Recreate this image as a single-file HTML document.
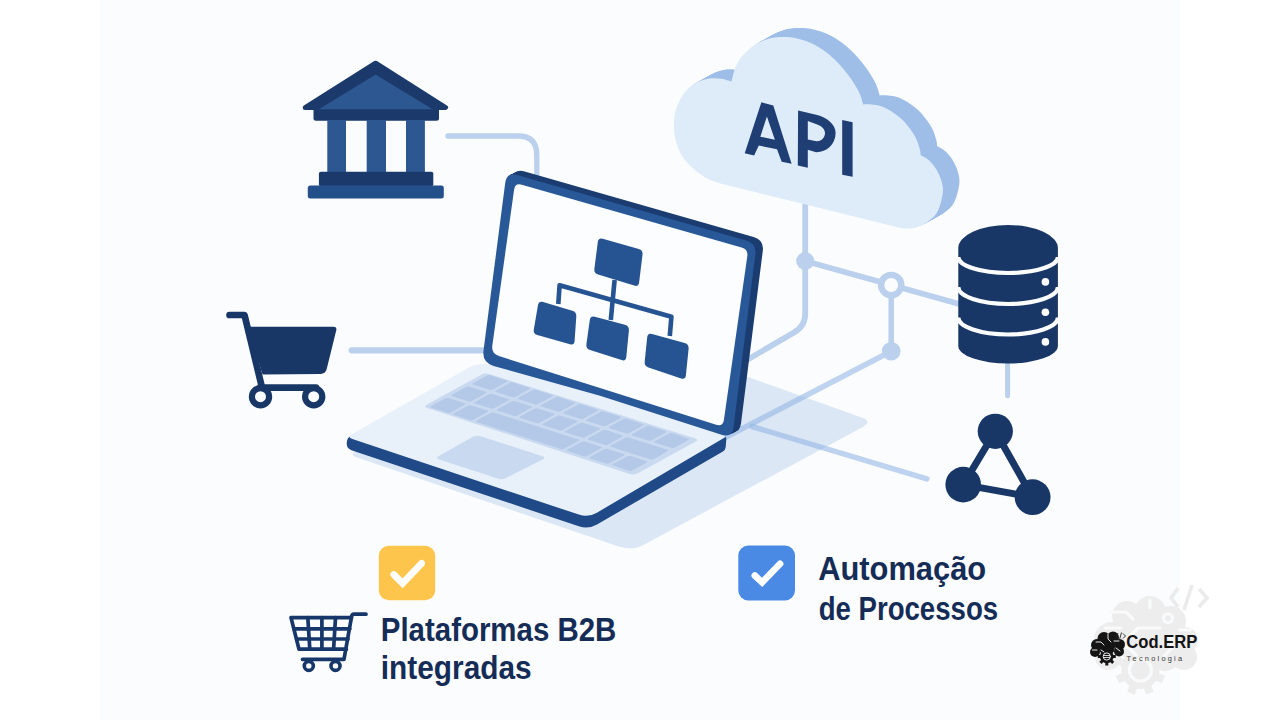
<!DOCTYPE html>
<html><head><meta charset="utf-8"><title>Integração</title>
<style>html,body{margin:0;padding:0;background:#fff;overflow:hidden}svg{display:block}</style>
</head><body>
<svg width="1280" height="720" viewBox="0 0 1280 720">
<rect x="0" y="0" width="1280" height="720" fill="#ffffff"/>
<rect x="100" y="0" width="1080" height="720" fill="#fbfcfe"/>
<path d="M354.9,451.5 Q350,455 355.7,456.9 L618.7,546.5 Q632,551 644.3,544.4 L862.4,427.2 Q873,421.5 861.7,417.5 L750.7,378 Q745,376 739,375.8 L476,368.2 Q470,368 465.1,371.5Z" fill="#dbe7f5"/>
<path d="M448,136 H518 Q536.8,136 536.8,155 V180" fill="none" stroke="#bad0ed" stroke-linecap="round" stroke-linejoin="round" stroke-width="5.3"/>
<path d="M351.7,350.3 H495" fill="none" stroke="#bad0ed" stroke-linecap="round" stroke-linejoin="round" stroke-width="6.2"/>
<path d="M805.2,205 V314 Q805.2,326 794,332.5 L740,364" fill="none" stroke="#bad0ed" stroke-linecap="round" stroke-linejoin="round" stroke-width="5.8"/>
<path d="M805.2,261 L958.4,303.8" fill="none" stroke="#bad0ed" stroke-linecap="round" stroke-linejoin="round" stroke-width="5.8"/>
<path d="M891.2,285 V351" fill="none" stroke="#bad0ed" stroke-linecap="round" stroke-linejoin="round" stroke-width="5.5"/>
<path d="M891.2,351.2 L725.5,437.3" fill="none" stroke="#94b7e4" stroke-opacity="0.6" stroke-linecap="round" stroke-width="5.5"/>
<path d="M752,426.5 L926.8,478.9" fill="none" stroke="#94b7e4" stroke-opacity="0.6" stroke-linecap="round" stroke-width="5.5"/>
<path d="M1007.6,360 V395.8" fill="none" stroke="#bad0ed" stroke-linecap="round" stroke-linejoin="round" stroke-width="5"/>
<circle cx="805.2" cy="261" r="9" fill="#bad0ed"/>
<circle cx="891.2" cy="285" r="10.1" fill="#fbfcfe" stroke="#bad0ed" stroke-width="6.4"/>
<circle cx="891.2" cy="351.2" r="9.3" fill="#bad0ed"/>
<path d="M375.6,63.2 L445.6,107.5 L305.2,107.5Z" fill="#1b3a6b" stroke="#1b3a6b" stroke-width="5" stroke-linejoin="round"/>
<path d="M375.6,74.4 L433,109.6 L318.5,109.6Z" fill="#2c5791"/>
<path d="M313.5,109.9 Q313.5,109.4 314,109.4 L438.5,109.4 Q439,109.4 439,109.9 L439,118.2 Q439,120.7 436.5,120.7 L316,120.7 Q313.5,120.7 313.5,118.2Z" fill="#1b3a6b"/>
<rect x="327.3" y="120" width="18.7" height="52.5" fill="#2c5791"/>
<rect x="366.7" y="120" width="19.3" height="52.5" fill="#2c5791"/>
<rect x="406" y="120" width="18.9" height="52.5" fill="#2c5791"/>
<rect x="318.9" y="171.8" width="114.4" height="14.5" rx="2" fill="#1b3a6b"/>
<rect x="307.8" y="185.6" width="136" height="12.8" rx="2.5" fill="#234f8a"/>
<g fill="#183766" stroke="#183766" stroke-linecap="round" stroke-linejoin="round">
<path d="M229.5,315 H244.5 L262,387.5" fill="none" stroke-width="6.7"/>
<path d="M248.8,327.7 Q248.5,326.7 249.5,326.7 L333.2,326.7 Q337.2,326.7 336.2,330.6 L326.7,369.1 Q325.5,374 320.5,374 L263.5,374.5 Q262.5,374.5 262.2,373.5Z" stroke-width="0"/>
<path d="M260,387.7 H316" fill="none" stroke-width="6.7"/>
</g>
<circle cx="260.5" cy="396.7" r="8.6" fill="#fbfcfe" stroke="#183766" stroke-width="6.2"/>
<circle cx="313.7" cy="396.7" r="8.6" fill="#fbfcfe" stroke="#183766" stroke-width="6.2"/>
<path d="M346.7,442.9 Q346.7,437.2 352,435.2 L420,410 Q420,410 420,410 L700,430 Q700,430 700,430 L723.6,435.8 Q726.5,436.5 726.3,439.5 L725.7,447 Q725.5,450 722.9,451.5 L597,524.5 Q588.3,529.5 578.8,526.3 L351.4,450.2 Q346.7,448.6 346.7,443.6Z" fill="#1f4987"/>
<path d="M352.4,439.1 Q346.7,437.2 351.9,434.2 L469,367.5 Q476,363.5 484,364 L515,366 Q515,366 515,366 L723.7,435.6 Q726.5,436.5 723.9,438 L596.9,512.7 Q588.3,517.8 578.8,514.6Z" fill="#e8f0fa"/>
<path d="M427,404.4 Q423,406.6 427.3,408 L629.6,474 Q633.8,475.3 637.8,473.2 L695.3,441.8 Q699.2,439.6 695,438.3 L489.1,374.1 Q484.8,372.8 480.9,374.9Z" fill="#c9d9f0"/>
<path d="M431.2,406.1 Q429.4,407 431.3,407.7 L447.2,412.7 Q449.1,413.3 450.9,412.4 L464.8,404.8 Q466.5,403.8 464.6,403.2 L448.7,398.1 Q446.8,397.5 445.1,398.5Z" fill="#b4c9e7"/>
<path d="M453.9,413.3 Q452.1,414.3 454.1,414.9 L469.9,420 Q471.8,420.6 473.6,419.6 L487.5,412 Q489.2,411.1 487.3,410.5 L471.5,405.4 Q469.5,404.8 467.8,405.7Z" fill="#b4c9e7"/>
<path d="M476.6,420.6 Q474.9,421.5 476.8,422.1 L560.9,449 Q562.8,449.6 564.5,448.6 L578.4,441 Q580.2,440.1 578.3,439.4 L494.2,412.6 Q492.3,412 490.5,413Z" fill="#b4c9e7"/>
<path d="M567.6,449.6 Q565.8,450.5 567.7,451.1 L583.6,456.2 Q585.5,456.8 587.2,455.9 L601.1,448.3 Q602.9,447.3 601,446.7 L585.1,441.6 Q583.2,441 581.4,442Z" fill="#b4c9e7"/>
<path d="M590.3,456.8 Q588.5,457.8 590.4,458.4 L606.3,463.5 Q608.2,464.1 610,463.1 L623.9,455.5 Q625.6,454.5 623.7,453.9 L607.8,448.9 Q605.9,448.3 604.2,449.2Z" fill="#b4c9e7"/>
<path d="M613,464.1 Q611.3,465 613.2,465.6 L629,470.7 Q631,471.3 632.7,470.3 L646.6,462.8 Q648.4,461.8 646.4,461.2 L630.6,456.1 Q628.7,455.5 626.9,456.5Z" fill="#b4c9e7"/>
<path d="M452.2,394.6 Q450.4,395.6 452.3,396.2 L468.2,401.2 Q470.1,401.8 471.9,400.9 L485.8,393.3 Q487.5,392.3 485.6,391.7 L469.7,386.7 Q467.8,386.1 466.1,387Z" fill="#b4c9e7"/>
<path d="M474.9,401.9 Q473.1,402.8 475.1,403.4 L490.9,408.5 Q492.8,409.1 494.6,408.1 L508.5,400.5 Q510.2,399.6 508.3,399 L492.5,393.9 Q490.5,393.3 488.8,394.3Z" fill="#b4c9e7"/>
<path d="M497.6,409.1 Q495.9,410.1 497.8,410.7 L513.7,415.7 Q515.6,416.3 517.3,415.4 L531.2,407.8 Q533,406.8 531.1,406.2 L515.2,401.2 Q513.3,400.5 511.5,401.5Z" fill="#b4c9e7"/>
<path d="M520.4,416.3 Q518.6,417.3 520.5,417.9 L536.4,423 Q538.3,423.6 540.1,422.6 L553.9,415 Q555.7,414.1 553.8,413.5 L537.9,408.4 Q536,407.8 534.3,408.8Z" fill="#b4c9e7"/>
<path d="M543.1,423.6 Q541.3,424.6 543.2,425.2 L559.1,430.2 Q561,430.8 562.8,429.9 L576.7,422.3 Q578.4,421.3 576.5,420.7 L560.6,415.7 Q558.7,415 557,416Z" fill="#b4c9e7"/>
<path d="M565.8,430.8 Q564.1,431.8 566,432.4 L581.9,437.5 Q583.8,438.1 585.5,437.1 L599.4,429.5 Q601.2,428.6 599.3,428 L583.4,422.9 Q581.5,422.3 579.7,423.3Z" fill="#b4c9e7"/>
<path d="M588.6,438.1 Q586.8,439.1 588.7,439.7 L604.6,444.7 Q606.5,445.3 608.2,444.4 L622.1,436.8 Q623.9,435.8 622,435.2 L606.1,430.1 Q604.2,429.5 602.4,430.5Z" fill="#b4c9e7"/>
<path d="M611.3,445.3 Q609.5,446.3 611.4,446.9 L650,459.2 Q652,459.8 653.7,458.9 L667.6,451.3 Q669.4,450.3 667.4,449.7 L628.8,437.4 Q626.9,436.8 625.2,437.7Z" fill="#b4c9e7"/>
<path d="M473.2,383.1 Q471.4,384.1 473.3,384.7 L489.2,389.8 Q491.1,390.4 492.9,389.4 L506.5,382 Q508.2,381 506.3,380.4 L490.4,375.3 Q488.5,374.7 486.8,375.7Z" fill="#b4c9e7"/>
<path d="M495.9,390.4 Q494.1,391.3 496.1,391.9 L511.9,397 Q513.8,397.6 515.6,396.7 L529.2,389.2 Q530.9,388.3 529,387.7 L513.2,382.6 Q511.2,382 509.5,382.9Z" fill="#b4c9e7"/>
<path d="M518.6,397.6 Q516.9,398.6 518.8,399.2 L534.7,404.3 Q536.6,404.9 538.3,403.9 L551.9,396.5 Q553.7,395.5 551.8,394.9 L535.9,389.8 Q534,389.2 532.2,390.2Z" fill="#b4c9e7"/>
<path d="M541.4,404.9 Q539.6,405.8 541.5,406.4 L557.4,411.5 Q559.3,412.1 561.1,411.1 L574.6,403.7 Q576.4,402.8 574.5,402.2 L558.6,397.1 Q556.7,396.5 555,397.4Z" fill="#b4c9e7"/>
<path d="M564.1,412.1 Q562.3,413.1 564.2,413.7 L580.1,418.7 Q582,419.4 583.8,418.4 L597.4,411 Q599.1,410 597.2,409.4 L581.3,404.3 Q579.4,403.7 577.7,404.7Z" fill="#b4c9e7"/>
<path d="M586.8,419.4 Q585.1,420.3 587,420.9 L602.9,426 Q604.8,426.6 606.5,425.6 L620.1,418.2 Q621.9,417.3 620,416.6 L604.1,411.6 Q602.2,411 600.4,411.9Z" fill="#b4c9e7"/>
<path d="M609.6,426.6 Q607.8,427.6 609.7,428.2 L625.6,433.2 Q627.5,433.9 629.2,432.9 L642.8,425.5 Q644.6,424.5 642.7,423.9 L626.8,418.8 Q624.9,418.2 623.1,419.2Z" fill="#b4c9e7"/>
<path d="M632.3,433.9 Q630.5,434.8 632.4,435.4 L648.3,440.5 Q650.2,441.1 652,440.1 L665.6,432.7 Q667.3,431.8 665.4,431.1 L649.5,426.1 Q647.6,425.5 645.9,426.4Z" fill="#b4c9e7"/>
<path d="M655,441.1 Q653.3,442.1 655.2,442.7 L671,447.7 Q673,448.3 674.7,447.4 L688.3,440 Q690.1,439 688.1,438.4 L672.3,433.3 Q670.4,432.7 668.6,433.7Z" fill="#b4c9e7"/>
<path d="M438.9,456 Q435,458.2 439.3,459.6 L497.7,478.6 Q502,480 506,478 L542.6,459.6 Q546.6,457.6 542.3,456.2 L480.7,436.2 Q476.4,434.8 472.5,437Z" fill="#c8d9f0"/>
<path d="M506.4,182.3 Q507.9,171.4 518.4,174.4 L747.4,239.9 Q758,242.9 756.6,253.8 L734.7,426.6 Q733.4,437.5 722.9,434.1 L601.2,395.2 Q601.2,395.2 601.2,395.2 L493.8,365 Q483.2,362 484.7,351.1Z" fill="#1b3c70"/>
<path d="M507.7,181.7 Q509.1,170.8 519.7,173.8 L748.6,239.3 Q759.2,242.3 757.8,253.2 L736,426 Q734.6,436.9 724.1,433.5 L602.5,394.6 Q602.5,394.6 602.5,394.6 L495.1,364.4 Q484.5,361.4 485.9,350.5Z" fill="#1b3c70"/>
<path d="M508.9,181.1 Q510.4,170.2 520.9,173.2 L749.9,238.7 Q760.5,241.7 759.1,252.6 L737.2,425.4 Q735.9,436.3 725.4,432.9 L603.8,394 Q603.8,394 603.8,394 L496.3,363.8 Q485.8,360.8 487.2,349.9Z" fill="#1b3c70"/>
<path d="M510.2,180.5 Q511.6,169.6 522.2,172.6 L751.1,238.1 Q761.7,241.1 760.3,252 L738.5,424.8 Q737.1,435.7 726.6,432.3 L605,393.4 Q605,393.4 605,393.4 L497.6,363.2 Q487,360.2 488.4,349.3Z" fill="#1b3c70"/>
<path d="M511.4,179.9 Q512.9,169 523.4,172 L752.4,237.5 Q763,240.5 761.6,251.4 L739.7,424.2 Q738.4,435.1 727.9,431.7 L606.2,392.8 Q606.2,392.8 606.2,392.8 L498.8,362.6 Q488.2,359.6 489.7,348.7Z" fill="#1b3c70"/>
<path d="M512.7,179.3 Q514.1,168.4 524.7,171.4 L753.6,236.9 Q764.2,239.9 762.8,250.8 L741,423.6 Q739.6,434.5 729.1,431.1 L607.5,392.2 Q607.5,392.2 607.5,392.2 L500.1,362 Q489.5,359 490.9,348.1Z" fill="#1b3c70"/>
<path d="M505.2,182.9 Q506.6,172 517.2,175 L746.1,240.5 Q756.7,243.5 755.3,254.4 L733.5,427.2 Q732.1,438.1 721.6,434.7 L600,395.8 Q600,395.8 600,395.8 L493.6,365.9 Q482,362.6 483.5,350.7Z" fill="#285898"/>
<path d="M514.1,189.7 Q515.1,182.8 521.8,184.7 L741.6,247.4 Q748.3,249.3 747.3,256.2 L723.9,420 Q722.9,426.9 716.2,424.8 L600,387.9 Q600,387.9 600,387.9 L498.8,356 Q491.2,353.6 492.3,345.7Z" fill="#fbfdff"/>
<path d="M558.3,304 L559.6,285.2 L671.4,316.8 L669.8,336" fill="none" stroke="#265391" stroke-width="4.6" stroke-linejoin="round"/>
<path d="M614.6,280 L610.8,320" fill="none" stroke="#265391" stroke-width="4.6"/>
<path d="M597.8,242.1 Q598.4,237.6 602.7,238.8 L638.8,249 Q643.1,250.2 642.5,254.7 L639.1,282.4 Q638.5,286.9 634.2,285.6 L598.1,274.5 Q593.8,273.2 594.4,268.7Z" fill="#265391"/>
<path d="M538,305.1 Q538.8,300.7 543.1,302 L572.3,310.8 Q576.6,312.1 576.3,316.6 L574.6,340.9 Q574.3,345.4 570,344.2 L537.3,335.1 Q533,333.9 533.8,329.5Z" fill="#265391"/>
<path d="M589.8,320.1 Q590.4,315.6 594.8,316.8 L624.9,324.7 Q629.3,325.9 628.9,330.4 L626.3,356.9 Q625.9,361.4 621.6,360.1 L590.1,350.1 Q585.8,348.8 586.4,344.3Z" fill="#265391"/>
<path d="M647.2,337.3 Q647.7,332.8 652,334 L684.7,343 Q689,344.2 688.6,348.7 L685.9,375.3 Q685.5,379.8 681.2,378.4 L648.5,367.4 Q644.2,366 644.7,361.5Z" fill="#265391"/>
<path d="M732.9,80.8 C733.5,78.4 735,70.7 736.9,66.5 C738.7,62.2 740.6,58.9 743.9,55.1 C747.2,51.4 752.1,46.9 756.6,44 C761,41 765.9,38.9 770.6,37.6 C775.3,36.4 780,36.2 784.7,36.2 C789.4,36.2 794,36.6 798.7,37.6 C803.4,38.7 808.1,40.3 812.8,42.5 C817.5,44.8 822.2,47.4 826.9,51 C831.6,54.5 836.7,59.2 840.9,63.7 C845.1,68.1 848.9,73 852.2,77.7 C855.5,82.3 858.5,87.4 860.6,91.8 C862.6,96.1 863.9,101.7 864.6,103.7 C865.9,103.7 869.6,103.3 872.6,103.7 C875.6,104 879.3,104.4 882.6,105.5 C886,106.6 889.3,108.4 892.6,110.5 C896,112.6 899.5,115.1 902.6,118 C905.8,120.9 908.9,124.7 911.4,128 C913.9,131.3 916,134.5 917.6,138 C919.3,141.5 920.6,146.5 921.4,149.2 C922.1,152 921.9,153.4 922,154.2 C923.4,155.2 927.9,157.2 930.8,160.1 C933.6,162.9 937,167 939.2,171.2 C941.4,175.3 943.3,180.7 944,185.1 C944.7,189.5 944.3,192.9 943.3,197.6 C942.2,202.2 940.5,208.7 937.8,212.8 C935,217 930.6,220.1 926.7,222.6 C922.7,225 918.1,226.6 914.2,227.4 C910.2,228.3 904.9,227.4 903.1,227.4 L722.6,182.9 C720.1,182 712.6,180.1 707.6,177.2 C702.6,174.4 696.8,170.1 692.6,166.1 C688.4,162 684.9,157.6 682.3,152.9 C679.6,148.3 677.8,142.9 676.7,137.9 C675.5,132.9 675.2,128 675.4,123 C675.5,118 676,113 677.6,108 C679.2,103 681.9,97.2 685.1,93 C688.2,88.7 692.3,85.2 696.4,82.7 C700.4,80.2 705.1,78.7 709.5,78 C713.8,77.2 718.7,77.5 722.6,78 C726.5,78.4 731.2,80.3 732.9,80.8Z" fill="#9ebee8"/>
<path d="M734.2,80 C734.9,77.6 736.4,70 738.2,65.7 C740.1,61.4 742,58.1 745.2,54.4 C748.5,50.6 753.5,46.1 758,43.2 C762.4,40.3 767.3,38.2 772,36.9 C776.6,35.6 781.4,35.5 786,35.5 C790.7,35.5 795.4,35.9 800,36.9 C804.7,37.9 809.4,39.6 814.1,41.8 C818.9,44 823.6,46.7 828.2,50.2 C832.9,53.7 838,58.5 842.2,62.9 C846.5,67.4 850.3,72.2 853.5,76.9 C856.8,81.6 859.9,86.7 862,91 C864,95.3 865.3,100.9 866,102.9 C867.3,102.9 871,102.6 874,102.9 C877,103.2 880.7,103.6 884,104.8 C887.3,105.9 890.7,107.7 894,109.8 C897.3,111.8 900.9,114.3 904,117.2 C907.1,120.2 910.2,123.9 912.8,127.2 C915.2,130.6 917.3,133.7 919,137.2 C920.7,140.8 922,145.8 922.8,148.5 C923.5,151.2 923.2,152.7 923.4,153.5 C924.8,154.5 929.3,156.5 932.1,159.3 C935,162.1 938.3,166.2 940.5,170.4 C942.8,174.6 944.7,179.9 945.4,184.3 C946,188.7 945.7,192.2 944.6,196.8 C943.6,201.4 941.9,207.9 939.1,212.1 C936.4,216.3 932,219.4 928,221.8 C924.1,224.2 919.5,225.9 915.5,226.7 C911.6,227.5 906.3,226.7 904.5,226.7 L724,182.2 C721.5,181.2 714,179.3 709,176.5 C704,173.7 698.2,169.4 694,165.3 C689.7,161.2 686.3,156.9 683.6,152.2 C681,147.5 679.2,142.2 678,137.2 C676.9,132.2 676.6,127.2 676.8,122.2 C676.9,117.2 677.3,112.2 679,107.2 C680.6,102.2 683.3,96.4 686.5,92.2 C689.6,88 693.7,84.4 697.8,81.9 C701.8,79.4 706.5,78 710.9,77.2 C715.2,76.4 720.1,76.7 724,77.2 C727.9,77.7 732.5,79.5 734.2,80Z" fill="#9ebee8"/>
<path d="M735.6,79.2 C736.3,76.9 737.8,69.2 739.6,65 C741.5,60.7 743.3,57.4 746.6,53.6 C749.9,49.9 754.9,45.4 759.3,42.5 C763.8,39.5 768.6,37.4 773.3,36.1 C778,34.9 782.7,34.8 787.4,34.8 C792.1,34.8 796.7,35.1 801.4,36.1 C806.1,37.2 810.8,38.8 815.5,41 C820.2,43.3 824.9,45.9 829.6,49.5 C834.3,53 839.4,57.7 843.6,62.2 C847.8,66.6 851.6,71.5 854.9,76.2 C858.2,80.8 861.3,85.9 863.3,90.2 C865.4,94.6 866.7,100.2 867.3,102.2 C868.7,102.2 872.4,101.8 875.4,102.2 C878.4,102.5 882,102.9 885.4,104 C888.7,105.1 892,106.9 895.4,109 C898.7,111.1 902.2,113.6 905.4,116.5 C908.5,119.4 911.6,123.2 914.1,126.5 C916.6,129.8 918.7,133 920.4,136.5 C922,140 923.4,145 924.1,147.8 C924.9,150.5 924.6,151.9 924.7,152.8 C926.2,153.7 930.7,155.7 933.5,158.6 C936.4,161.4 939.7,165.5 941.9,169.7 C944.1,173.8 946,179.2 946.7,183.6 C947.4,188 947.1,191.4 946,196.1 C945,200.7 943.3,207.2 940.5,211.3 C937.8,215.5 933.4,218.6 929.4,221.1 C925.5,223.5 920.9,225.1 916.9,225.9 C913,226.8 907.7,225.9 905.8,225.9 L725.3,181.4 C722.8,180.5 715.3,178.6 710.3,175.8 C705.3,172.9 699.5,168.6 695.3,164.6 C691.1,160.5 687.7,156.1 685,151.4 C682.4,146.8 680.6,141.4 679.4,136.4 C678.3,131.4 678,126.5 678.1,121.5 C678.3,116.5 678.7,111.5 680.3,106.5 C681.9,101.5 684.7,95.7 687.8,91.5 C691,87.2 695.1,83.7 699.1,81.2 C703.2,78.7 707.9,77.2 712.2,76.5 C716.6,75.7 721.4,76 725.3,76.5 C729.2,76.9 733.9,78.8 735.6,79.2Z" fill="#9ebee8"/>
<path d="M737,78.5 C737.7,76.1 739.2,68.5 741,64.2 C742.8,59.9 744.7,56.6 748,52.9 C751.3,49.1 756.2,44.6 760.7,41.7 C765.2,38.8 770,36.7 774.7,35.4 C779.4,34.1 784.1,34 788.8,34 C793.5,34 798.1,34.4 802.8,35.4 C807.5,36.4 812.2,38.1 816.9,40.3 C821.6,42.5 826.3,45.2 831,48.7 C835.7,52.2 840.8,57 845,61.4 C849.2,65.9 853,70.7 856.3,75.4 C859.6,80.1 862.6,85.2 864.7,89.5 C866.8,93.8 868,99.4 868.7,101.4 C870,101.4 873.7,101.1 876.8,101.4 C879.8,101.7 883.4,102.1 886.8,103.2 C890.1,104.4 893.4,106.2 896.8,108.2 C900.1,110.3 903.6,112.8 906.8,115.8 C909.9,118.7 913,122.4 915.5,125.8 C918,129.1 920.1,132.2 921.8,135.8 C923.4,139.3 924.8,144.3 925.5,147 C926.2,149.7 926,151.2 926.1,152 C927.6,153 932,155 934.9,157.8 C937.8,160.6 941.1,164.7 943.3,168.9 C945.5,173.1 947.4,178.4 948.1,182.8 C948.8,187.2 948.4,190.7 947.4,195.3 C946.4,199.9 944.7,206.4 941.9,210.6 C939.1,214.8 934.7,217.9 930.8,220.3 C926.9,222.7 922.2,224.4 918.3,225.2 C914.4,226 909.1,225.2 907.2,225.2 L726.7,180.7 C724.2,179.8 716.7,177.8 711.7,175 C706.7,172.2 700.9,167.9 696.7,163.8 C692.5,159.8 689,155.4 686.4,150.7 C683.8,146 681.9,140.7 680.8,135.7 C679.6,130.7 679.4,125.7 679.5,120.7 C679.6,115.7 680.1,110.7 681.7,105.7 C683.3,100.7 686.1,94.9 689.2,90.7 C692.3,86.5 696.4,82.9 700.5,80.4 C704.6,77.9 709.2,76.5 713.6,75.7 C718,74.9 722.8,75.2 726.7,75.7 C730.6,76.2 735.3,78 737,78.5Z" fill="#9ebee8"/>
<path d="M738.4,77.8 C739,75.4 740.5,67.7 742.4,63.5 C744.2,59.2 746.1,55.9 749.4,52.1 C752.7,48.4 757.6,43.9 762.1,41 C766.5,38 771.4,35.9 776.1,34.6 C780.8,33.4 785.5,33.2 790.2,33.2 C794.9,33.2 799.5,33.6 804.2,34.6 C808.9,35.7 813.6,37.3 818.3,39.5 C823,41.8 827.7,44.4 832.4,48 C837.1,51.5 842.2,56.2 846.4,60.7 C850.6,65.1 854.4,70 857.7,74.7 C861,79.3 864,84.4 866.1,88.8 C868.1,93.1 869.4,98.7 870.1,100.7 C871.4,100.7 875.1,100.3 878.1,100.7 C881.1,101 884.8,101.4 888.1,102.5 C891.5,103.6 894.8,105.4 898.1,107.5 C901.5,109.6 905,112.1 908.1,115 C911.2,117.9 914.4,121.7 916.9,125 C919.4,128.3 921.5,131.5 923.1,135 C924.8,138.5 926.1,143.5 926.9,146.2 C927.6,149 927.4,150.4 927.5,151.2 C928.9,152.2 933.4,154.2 936.3,157.1 C939.1,159.9 942.5,164 944.7,168.2 C946.9,172.3 948.8,177.7 949.5,182.1 C950.2,186.5 949.8,189.9 948.8,194.6 C947.7,199.2 946,205.7 943.3,209.8 C940.5,214 936.1,217.1 932.2,219.6 C928.2,222 923.6,223.6 919.7,224.4 C915.7,225.3 910.4,224.4 908.6,224.4 L728.1,179.9 C725.6,179 718.1,177.1 713.1,174.2 C708.1,171.4 702.3,167.1 698.1,163.1 C693.9,159 690.4,154.6 687.8,149.9 C685.1,145.3 683.3,139.9 682.2,134.9 C681,129.9 680.7,125 680.9,120 C681,115 681.5,110 683.1,105 C684.7,100 687.4,94.2 690.6,90 C693.7,85.7 697.8,82.2 701.9,79.7 C705.9,77.2 710.6,75.7 715,75 C719.3,74.2 724.2,74.5 728.1,75 C732,75.4 736.7,77.3 738.4,77.8Z" fill="#9ebee8"/>
<path d="M739.8,77 C740.4,74.6 741.9,67 743.8,62.7 C745.6,58.4 747.5,55.1 750.8,51.4 C754,47.6 759,43.1 763.5,40.2 C767.9,37.3 772.8,35.2 777.5,33.9 C782.1,32.6 786.9,32.5 791.5,32.5 C796.2,32.5 800.9,32.9 805.5,33.9 C810.2,34.9 814.9,36.6 819.6,38.8 C824.4,41 829.1,43.7 833.8,47.2 C838.4,50.7 843.5,55.5 847.8,59.9 C852,64.4 855.8,69.2 859,73.9 C862.3,78.6 865.4,83.7 867.5,88 C869.5,92.3 870.8,97.9 871.5,99.9 C872.8,99.9 876.5,99.6 879.5,99.9 C882.5,100.2 886.2,100.6 889.5,101.8 C892.8,102.9 896.2,104.7 899.5,106.8 C902.8,108.8 906.4,111.3 909.5,114.2 C912.6,117.2 915.8,120.9 918.2,124.2 C920.8,127.6 922.8,130.7 924.5,134.2 C926.2,137.8 927.5,142.8 928.2,145.5 C929,148.2 928.8,149.7 928.9,150.5 C930.3,151.5 934.8,153.5 937.6,156.3 C940.5,159.1 943.8,163.2 946,167.4 C948.2,171.6 950.2,176.9 950.9,181.3 C951.5,185.7 951.2,189.2 950.1,193.8 C949.1,198.4 947.4,204.9 944.6,209.1 C941.9,213.3 937.5,216.4 933.5,218.8 C929.6,221.2 925,222.9 921,223.7 C917.1,224.5 911.8,223.7 910,223.7 L729.5,179.2 C727,178.2 719.5,176.3 714.5,173.5 C709.5,170.7 703.7,166.4 699.5,162.3 C695.2,158.2 691.8,153.9 689.1,149.2 C686.5,144.5 684.7,139.2 683.5,134.2 C682.4,129.2 682.1,124.2 682.2,119.2 C682.4,114.2 682.8,109.2 684.5,104.2 C686.1,99.2 688.8,93.4 692,89.2 C695.1,85 699.2,81.4 703.2,78.9 C707.3,76.4 712,75 716.4,74.2 C720.7,73.4 725.6,73.7 729.5,74.2 C733.4,74.7 738,76.5 739.8,77Z" fill="#9ebee8"/>
<path d="M741.1,76.2 C741.8,73.9 743.3,66.2 745.1,62 C747,57.7 748.8,54.4 752.1,50.6 C755.4,46.9 760.4,42.4 764.8,39.5 C769.3,36.5 774.1,34.4 778.8,33.1 C783.5,31.9 788.2,31.8 792.9,31.8 C797.6,31.8 802.2,32.1 806.9,33.1 C811.6,34.2 816.3,35.8 821,38 C825.7,40.3 830.4,42.9 835.1,46.5 C839.8,50 844.9,54.7 849.1,59.2 C853.3,63.6 857.1,68.5 860.4,73.2 C863.7,77.8 866.8,82.9 868.8,87.2 C870.9,91.6 872.2,97.2 872.8,99.2 C874.2,99.2 877.9,98.8 880.9,99.2 C883.9,99.5 887.5,99.9 890.9,101 C894.2,102.1 897.5,103.9 900.9,106 C904.2,108.1 907.8,110.6 910.9,113.5 C914,116.4 917.1,120.2 919.6,123.5 C922.1,126.8 924.2,130 925.9,133.5 C927.5,137 928.9,142 929.6,144.8 C930.4,147.5 930.1,148.9 930.2,149.8 C931.7,150.7 936.2,152.7 939,155.6 C941.9,158.4 945.2,162.5 947.4,166.7 C949.6,170.8 951.5,176.2 952.2,180.6 C952.9,185 952.6,188.4 951.5,193.1 C950.5,197.7 948.8,204.2 946,208.3 C943.3,212.5 938.9,215.6 934.9,218.1 C931,220.5 926.4,222.1 922.4,222.9 C918.5,223.8 913.2,222.9 911.3,222.9 L730.8,178.4 C728.3,177.5 720.8,175.6 715.8,172.8 C710.8,169.9 705,165.6 700.8,161.6 C696.6,157.5 693.2,153.1 690.5,148.4 C687.9,143.8 686.1,138.4 684.9,133.4 C683.8,128.4 683.5,123.5 683.6,118.5 C683.8,113.5 684.2,108.5 685.8,103.5 C687.4,98.5 690.2,92.7 693.3,88.5 C696.5,84.2 700.6,80.7 704.6,78.2 C708.7,75.7 713.4,74.2 717.7,73.5 C722.1,72.7 726.9,73 730.8,73.5 C734.7,73.9 739.4,75.8 741.1,76.2Z" fill="#9ebee8"/>
<path d="M742.5,75.5 C743.2,73.1 744.7,65.5 746.5,61.2 C748.3,56.9 750.2,53.6 753.5,49.9 C756.8,46.1 761.8,41.6 766.2,38.7 C770.7,35.8 775.5,33.7 780.2,32.4 C784.9,31.1 789.6,31 794.3,31 C799,31 803.6,31.3 808.3,32.4 C813,33.4 817.7,35.1 822.4,37.3 C827.1,39.5 831.8,42.2 836.5,45.7 C841.2,49.2 846.3,54 850.5,58.4 C854.7,62.9 858.5,67.7 861.8,72.4 C865.1,77.1 868.1,82.2 870.2,86.5 C872.3,90.8 873.5,96.4 874.2,98.4 C875.5,98.4 879.2,98.1 882.2,98.4 C885.3,98.7 888.9,99.1 892.2,100.2 C895.6,101.4 898.9,103.2 902.2,105.2 C905.6,107.3 909.1,109.8 912.2,112.8 C915.4,115.7 918.5,119.4 921,122.8 C923.5,126.1 925.6,129.2 927.2,132.8 C928.9,136.3 930.3,141.3 931,144 C931.7,146.7 931.5,148.2 931.6,149 C933.1,150 937.5,152 940.4,154.8 C943.3,157.6 946.6,161.7 948.8,165.9 C951,170.1 952.9,175.4 953.6,179.8 C954.3,184.2 953.9,187.7 952.9,192.3 C951.9,196.9 950.2,203.4 947.4,207.6 C944.6,211.8 940.2,214.9 936.3,217.3 C932.4,219.7 927.7,221.4 923.8,222.2 C919.9,223 914.6,222.2 912.7,222.2 L732.2,177.7 C729.7,176.8 722.2,174.8 717.2,172 C712.2,169.2 706.4,164.9 702.2,160.8 C698,156.8 694.5,152.4 691.9,147.7 C689.2,143 687.4,137.7 686.3,132.7 C685.1,127.7 684.9,122.7 685,117.7 C685.1,112.7 685.6,107.7 687.2,102.7 C688.8,97.7 691.6,91.9 694.7,87.7 C697.8,83.5 701.9,79.9 706,77.4 C710.1,74.9 714.7,73.5 719.1,72.7 C723.5,71.9 728.3,72.2 732.2,72.7 C736.1,73.2 740.8,75 742.5,75.5Z" fill="#9ebee8"/>
<path d="M743.9,74.8 C744.5,72.4 746,64.7 747.9,60.5 C749.7,56.2 751.6,52.9 754.9,49.1 C758.2,45.4 763.1,40.9 767.6,38 C772,35 776.9,32.9 781.6,31.6 C786.3,30.4 791,30.2 795.7,30.2 C800.4,30.2 805,30.6 809.7,31.6 C814.4,32.7 819.1,34.3 823.8,36.5 C828.5,38.8 833.2,41.4 837.9,45 C842.6,48.5 847.7,53.2 851.9,57.7 C856.1,62.1 859.9,67 863.2,71.7 C866.5,76.3 869.5,81.4 871.6,85.8 C873.6,90.1 874.9,95.7 875.6,97.7 C876.9,97.7 880.6,97.3 883.6,97.7 C886.6,98 890.3,98.4 893.6,99.5 C897,100.6 900.3,102.4 903.6,104.5 C907,106.6 910.5,109.1 913.6,112 C916.8,114.9 919.9,118.7 922.4,122 C924.9,125.3 927,128.5 928.6,132 C930.3,135.5 931.6,140.5 932.4,143.2 C933.1,146 932.9,147.4 933,148.2 C934.4,149.2 938.9,151.2 941.8,154.1 C944.6,156.9 948,161 950.2,165.2 C952.4,169.3 954.3,174.7 955,179.1 C955.7,183.5 955.3,186.9 954.3,191.6 C953.2,196.2 951.5,202.7 948.8,206.8 C946,211 941.6,214.1 937.7,216.6 C933.7,219 929.1,220.6 925.2,221.4 C921.2,222.3 915.9,221.4 914.1,221.4 L733.6,176.9 C731.1,176 723.6,174.1 718.6,171.2 C713.6,168.4 707.8,164.1 703.6,160.1 C699.4,156 695.9,151.6 693.3,146.9 C690.6,142.3 688.8,136.9 687.7,131.9 C686.5,126.9 686.2,122 686.4,117 C686.5,112 687,107 688.6,102 C690.2,97 692.9,91.2 696.1,87 C699.2,82.7 703.3,79.2 707.4,76.7 C711.4,74.2 716.1,72.7 720.5,72 C724.8,71.2 729.7,71.5 733.6,72 C737.5,72.4 742.2,74.3 743.9,74.8Z" fill="#9ebee8"/>
<path d="M745.2,74 C745.9,71.6 747.4,64 749.2,59.7 C751.1,55.4 753,52.1 756.2,48.4 C759.5,44.6 764.5,40.1 769,37.2 C773.4,34.3 778.3,32.2 783,30.9 C787.6,29.6 792.4,29.5 797,29.5 C801.7,29.5 806.4,29.8 811,30.9 C815.7,31.9 820.4,33.6 825.1,35.8 C829.9,38 834.6,40.7 839.2,44.2 C843.9,47.7 849,52.5 853.2,56.9 C857.5,61.4 861.3,66.2 864.5,70.9 C867.8,75.6 870.9,80.7 873,85 C875,89.3 876.3,94.9 877,96.9 C878.3,96.9 882,96.6 885,96.9 C888,97.2 891.7,97.6 895,98.8 C898.3,99.9 901.7,101.7 905,103.8 C908.3,105.8 911.9,108.3 915,111.2 C918.1,114.2 921.2,117.9 923.8,121.2 C926.2,124.6 928.3,127.7 930,131.2 C931.7,134.8 933,139.8 933.8,142.5 C934.5,145.2 934.2,146.7 934.4,147.5 C935.8,148.5 940.3,150.5 943.1,153.3 C946,156.1 949.3,160.2 951.5,164.4 C953.8,168.6 955.7,173.9 956.4,178.3 C957,182.7 956.7,186.2 955.6,190.8 C954.6,195.4 952.9,201.9 950.1,206.1 C947.4,210.3 943,213.4 939,215.8 C935.1,218.2 930.5,219.9 926.5,220.7 C922.6,221.5 917.3,220.7 915.5,220.7 L735,176.2 C732.5,175.2 725,173.3 720,170.5 C715,167.7 709.2,163.4 705,159.3 C700.7,155.2 697.3,150.9 694.6,146.2 C692,141.5 690.2,136.2 689,131.2 C687.9,126.2 687.6,121.2 687.8,116.2 C687.9,111.2 688.3,106.2 690,101.2 C691.6,96.2 694.3,90.4 697.5,86.2 C700.6,82 704.7,78.4 708.8,75.9 C712.8,73.4 717.5,72 721.9,71.2 C726.2,70.4 731.1,70.7 735,71.2 C738.9,71.7 743.5,73.5 745.2,74Z" fill="#9ebee8"/>
<path d="M746.6,73.2 C747.3,70.9 748.8,63.2 750.6,59 C752.5,54.7 754.3,51.4 757.6,47.6 C760.9,43.9 765.9,39.4 770.3,36.5 C774.8,33.5 779.6,31.4 784.3,30.1 C789,28.9 793.7,28.8 798.4,28.8 C803.1,28.8 807.7,29.1 812.4,30.1 C817.1,31.2 821.8,32.8 826.5,35 C831.2,37.3 835.9,39.9 840.6,43.5 C845.3,47 850.4,51.7 854.6,56.2 C858.8,60.6 862.6,65.5 865.9,70.2 C869.2,74.8 872.3,79.9 874.3,84.2 C876.4,88.6 877.7,94.2 878.3,96.2 C879.7,96.2 883.4,95.8 886.4,96.2 C889.4,96.5 893,96.9 896.4,98 C899.7,99.1 903,100.9 906.4,103 C909.7,105.1 913.2,107.6 916.4,110.5 C919.5,113.4 922.6,117.2 925.1,120.5 C927.6,123.8 929.7,127 931.4,130.5 C933,134 934.4,139 935.1,141.8 C935.9,144.5 935.6,145.9 935.7,146.8 C937.2,147.7 941.7,149.7 944.5,152.6 C947.4,155.4 950.7,159.5 952.9,163.7 C955.1,167.8 957,173.2 957.7,177.6 C958.4,182 958.1,185.4 957,190.1 C956,194.7 954.3,201.2 951.5,205.3 C948.8,209.5 944.4,212.6 940.4,215.1 C936.5,217.5 931.9,219.1 927.9,219.9 C924,220.8 918.7,219.9 916.8,219.9 L736.3,175.4 C733.8,174.5 726.3,172.6 721.3,169.8 C716.3,166.9 710.5,162.6 706.3,158.6 C702.1,154.5 698.7,150.1 696,145.4 C693.4,140.8 691.6,135.4 690.4,130.4 C689.3,125.4 689,120.5 689.1,115.5 C689.3,110.5 689.7,105.5 691.3,100.5 C692.9,95.5 695.7,89.7 698.8,85.5 C702,81.2 706.1,77.7 710.1,75.2 C714.2,72.7 718.9,71.2 723.2,70.5 C727.6,69.7 732.4,70 736.3,70.5 C740.2,70.9 744.9,72.8 746.6,73.2Z" fill="#9ebee8"/>
<path d="M748,72.5 C748.7,70.1 750.2,62.5 752,58.2 C753.8,53.9 755.7,50.6 759,46.9 C762.3,43.1 767.2,38.6 771.7,35.7 C776.2,32.8 781,30.7 785.7,29.4 C790.4,28.1 795.1,28 799.8,28 C804.5,28 809.1,28.3 813.8,29.4 C818.5,30.4 823.2,32.1 827.9,34.3 C832.6,36.5 837.3,39.2 842,42.7 C846.7,46.2 851.8,51 856,55.4 C860.2,59.9 864,64.7 867.3,69.4 C870.6,74.1 873.6,79.2 875.7,83.5 C877.8,87.8 879,93.4 879.7,95.4 C881,95.4 884.7,95.1 887.8,95.4 C890.8,95.7 894.4,96.1 897.8,97.2 C901.1,98.4 904.4,100.2 907.8,102.2 C911.1,104.3 914.6,106.8 917.8,109.8 C920.9,112.7 924,116.4 926.5,119.8 C929,123.1 931.1,126.2 932.8,129.8 C934.4,133.3 935.8,138.3 936.5,141 C937.2,143.7 937,145.2 937.1,146 C938.6,147 943,149 945.9,151.8 C948.8,154.6 952.1,158.7 954.3,162.9 C956.5,167.1 958.4,172.4 959.1,176.8 C959.8,181.2 959.4,184.7 958.4,189.3 C957.4,193.9 955.7,200.4 952.9,204.6 C950.1,208.8 945.7,211.9 941.8,214.3 C937.9,216.7 933.2,218.4 929.3,219.2 C925.4,220 920.1,219.2 918.2,219.2 L737.7,174.7 C735.2,173.8 727.7,171.8 722.7,169 C717.7,166.2 711.9,161.9 707.7,157.8 C703.5,153.8 700,149.4 697.4,144.7 C694.8,140 692.9,134.7 691.8,129.7 C690.6,124.7 690.4,119.7 690.5,114.7 C690.6,109.7 691.1,104.7 692.7,99.7 C694.3,94.7 697.1,88.9 700.2,84.7 C703.3,80.5 707.4,76.9 711.5,74.4 C715.6,71.9 720.2,70.5 724.6,69.7 C729,68.9 733.8,69.2 737.7,69.7 C741.6,70.2 746.3,72 748,72.5Z" fill="#9ebee8"/>
<path d="M731.5,81.5 C732.2,79.1 733.7,71.5 735.5,67.2 C737.3,62.9 739.2,59.6 742.5,55.9 C745.8,52.1 750.8,47.6 755.2,44.7 C759.7,41.8 764.5,39.7 769.2,38.4 C773.9,37.1 778.6,37 783.3,37 C788,37 792.6,37.4 797.3,38.4 C802,39.4 806.7,41.1 811.4,43.3 C816.1,45.5 820.8,48.2 825.5,51.7 C830.2,55.2 835.3,60 839.5,64.4 C843.7,68.9 847.5,73.7 850.8,78.4 C854.1,83.1 857.1,88.2 859.2,92.5 C861.3,96.8 862.5,102.4 863.2,104.4 C864.5,104.4 868.2,104.1 871.2,104.4 C874.3,104.7 877.9,105.1 881.2,106.2 C884.6,107.4 887.9,109.2 891.2,111.2 C894.6,113.3 898.1,115.8 901.2,118.8 C904.4,121.7 907.5,125.4 910,128.8 C912.5,132.1 914.6,135.2 916.2,138.8 C917.9,142.3 919.3,147.3 920,150 C920.7,152.7 920.5,154.2 920.6,155 C922.1,156 926.5,158 929.4,160.8 C932.3,163.6 935.6,167.7 937.8,171.9 C940,176.1 941.9,181.4 942.6,185.8 C943.3,190.2 942.9,193.7 941.9,198.3 C940.9,202.9 939.2,209.4 936.4,213.6 C933.6,217.8 929.2,220.9 925.3,223.3 C921.4,225.7 916.7,227.4 912.8,228.2 C908.9,229 903.6,228.2 901.7,228.2 L721.2,183.7 C718.7,182.8 711.2,180.8 706.2,178 C701.2,175.2 695.4,170.9 691.2,166.8 C687,162.8 683.5,158.4 680.9,153.7 C678.2,149 676.4,143.7 675.3,138.7 C674.1,133.7 673.9,128.7 674,123.7 C674.1,118.7 674.6,113.7 676.2,108.7 C677.8,103.7 680.6,97.9 683.7,93.7 C686.8,89.5 690.9,85.9 695,83.4 C699.1,80.9 703.7,79.5 708.1,78.7 C712.5,77.9 717.3,78.2 721.2,78.7 C725.1,79.2 729.8,81 731.5,81.5Z" fill="#deebf9"/>
<path d="M761.4,102.3 L773.3,105.4 L791.6,163.8 L781.7,161.7 L777,149.2 L758.8,145.5 L754.1,155.4 L744.7,153.3Z M766.9,116.4 L774.9,139.8 L760.3,136.7Z" fill="#1e3e74" fill-rule="evenodd"/>
<path d="M798.1,110.6 L817.2,115 C826,117 835.8,124 835.6,133 C835.4,145 826,152.5 816.1,152.2 L807.8,149.8 L807.8,167.8 L797.8,165.6 Z M807.8,121.1 L817.2,124.4 C822,126 825.2,129.5 825,133.3 C824.8,137.5 821.5,141.8 816.5,141.3 L807.8,139.4 Z" fill="#1e3e74" fill-rule="evenodd"/>
<path d="M842.2,120 L852.6,122.2 L852.6,176.7 L842.2,174.7Z" fill="#1e3e74"/>
<path d="M958.3,248 L958.3,346 A49.8,17.5 0 0 0 1057.9,346 L1057.9,248 A49.8,23 0 0 0 958.3,248 Z" fill="#183766"/>
<path d="M958.3,257 A49.8,16 0 0 0 1057.9,257" fill="none" stroke="#fbfcfe" stroke-width="4.2"/>
<path d="M958.3,287 A49.8,17 0 0 0 1057.9,287" fill="none" stroke="#fbfcfe" stroke-width="4.2"/>
<path d="M958.3,317.5 A49.8,17 0 0 0 1057.9,317.5" fill="none" stroke="#fbfcfe" stroke-width="4.2"/>
<circle cx="1045.4" cy="281.9" r="3.8" fill="#ffffff"/>
<circle cx="1045.4" cy="312.3" r="3.8" fill="#ffffff"/>
<circle cx="1045.4" cy="341.9" r="3.8" fill="#ffffff"/>
<path d="M995.3,431.3 L963.2,484.6 L1032.6,497.2 Z" fill="none" stroke="#183766" stroke-width="7" stroke-linejoin="round"/>
<circle cx="995.3" cy="431.3" r="17.6" fill="#183766"/>
<circle cx="963.2" cy="484.6" r="17.8" fill="#183766"/>
<circle cx="1032.6" cy="497.2" r="17.9" fill="#183766"/>
<rect x="378.8" y="545.8" width="56.4" height="54.5" rx="10" fill="#fdc54b"/>
<path d="M393.8,574.5 L402.6,583.4 L421.6,563.3" fill="none" stroke="#ffffff" stroke-width="6.8" stroke-linecap="round" stroke-linejoin="miter"/>
<rect x="738.3" y="545.5" width="56.7" height="55" rx="10" fill="#4a8ae5"/>
<path d="M754.8,575.5 L762.1,582.4 L780.1,563.8" fill="none" stroke="#ffffff" stroke-width="6.6" stroke-linecap="round" stroke-linejoin="miter"/>
<text x="380.8" y="641.3" textLength="235.5" font-family="Liberation Sans, sans-serif" font-weight="bold" font-size="33" fill="#152c57" lengthAdjust="spacingAndGlyphs">Plataformas B2B</text>
<text x="380.8" y="679" textLength="150.8" font-family="Liberation Sans, sans-serif" font-weight="bold" font-size="33" fill="#152c57" lengthAdjust="spacingAndGlyphs">integradas</text>
<text x="818.2" y="579.7" textLength="168" font-family="Liberation Sans, sans-serif" font-weight="bold" font-size="33" fill="#152c57" lengthAdjust="spacingAndGlyphs">Automação</text>
<text x="818.7" y="619.9" textLength="179.4" font-family="Liberation Sans, sans-serif" font-weight="bold" font-size="33" fill="#152c57" lengthAdjust="spacingAndGlyphs">de Processos</text>
<g fill="none" stroke="#17376a" stroke-width="3.7" stroke-linecap="round" stroke-linejoin="round">
<path d="M366,614.2 H354 Q352,614.2 351.6,616.5 L344,659.3 H302.5"/>
<path d="M291,617.6 H351.5 M291,617.6 L299,649.2 H346.4"/>
<path d="M294,628.8 H349.8 M296.6,639 H348 M307.8,617.6 L309.8,649.2 M321.9,617.6 V649.2 M335.5,617.6 L333.6,649.2"/>
</g>
<circle cx="308.8" cy="665.9" r="4.5" fill="#fbfcfe" stroke="#17376a" stroke-width="3.6"/>
<circle cx="335.5" cy="665.9" r="4.5" fill="#fbfcfe" stroke="#17376a" stroke-width="3.6"/>
<g fill="#ededed">
<circle cx="1112" cy="640" r="18"/>
<circle cx="1127" cy="616" r="15"/>
<circle cx="1150" cy="612" r="16"/>
<circle cx="1171" cy="621" r="15"/>
<circle cx="1185" cy="640" r="13"/>
<circle cx="1184" cy="657" r="13"/>
<circle cx="1142" cy="640" r="25"/>
<circle cx="1108" cy="657" r="13"/>
<circle cx="1165" cy="655" r="16"/>
<circle cx="1140.4" cy="670" r="19"/>
<rect x="1136.4" y="645" width="8" height="10" transform="rotate(22.5 1140.4 670)"/>
<rect x="1136.4" y="645" width="8" height="10" transform="rotate(67.5 1140.4 670)"/>
<rect x="1136.4" y="645" width="8" height="10" transform="rotate(112.5 1140.4 670)"/>
<rect x="1136.4" y="645" width="8" height="10" transform="rotate(157.5 1140.4 670)"/>
<rect x="1136.4" y="645" width="8" height="10" transform="rotate(202.5 1140.4 670)"/>
<rect x="1136.4" y="645" width="8" height="10" transform="rotate(247.5 1140.4 670)"/>
<rect x="1136.4" y="645" width="8" height="10" transform="rotate(292.5 1140.4 670)"/>
<rect x="1136.4" y="645" width="8" height="10" transform="rotate(337.5 1140.4 670)"/>
</g>
<g fill="none" stroke="#f9fafb" stroke-width="3.2" stroke-linecap="round" stroke-linejoin="round">
<path d="M1110,612 H1126 L1133,619 M1105,628 H1121 M1126,640 L1138,628 H1160 M1150,600 V608 M1112,647 H1128 L1136,655 M1172,636 V648 L1164,656 M1180,630 H1190"/>
<circle cx="1168" cy="618.3" r="4.5"/>
<circle cx="1140.4" cy="670" r="11"/>
</g>
<path d="M1178,588 L1171,598 L1178,607 M1192,585 L1184,610 M1199,589 L1207,598 L1199,607" fill="none" stroke="#ebebeb" stroke-width="3.6"/>
<g fill="#141414">
<circle cx="1097" cy="645" r="6"/>
<circle cx="1104" cy="638.5" r="6.5"/>
<circle cx="1113" cy="637.5" r="6"/>
<circle cx="1119.5" cy="644.5" r="5.5"/>
<circle cx="1095" cy="652" r="5"/>
<circle cx="1119" cy="651.5" r="5"/>
<circle cx="1107" cy="647" r="8"/>
<circle cx="1106.8" cy="656.5" r="6.8"/>
<rect x="1105.3" y="647.5" width="3" height="4" transform="rotate(0 1106.8 656.5)"/>
<rect x="1105.3" y="647.5" width="3" height="4" transform="rotate(45 1106.8 656.5)"/>
<rect x="1105.3" y="647.5" width="3" height="4" transform="rotate(90 1106.8 656.5)"/>
<rect x="1105.3" y="647.5" width="3" height="4" transform="rotate(135 1106.8 656.5)"/>
<rect x="1105.3" y="647.5" width="3" height="4" transform="rotate(180 1106.8 656.5)"/>
<rect x="1105.3" y="647.5" width="3" height="4" transform="rotate(225 1106.8 656.5)"/>
<rect x="1105.3" y="647.5" width="3" height="4" transform="rotate(270 1106.8 656.5)"/>
<rect x="1105.3" y="647.5" width="3" height="4" transform="rotate(315 1106.8 656.5)"/>
</g>
<g fill="none" stroke="#ffffff" stroke-width="0.9" stroke-linecap="round">
<path d="M1096,642 H1101 L1104,645 M1108,634 V639 L1111,642 M1114,641 H1119 M1092.5,650 H1097 M1116,648 L1120,651 M1101,650 L1104,652"/>
<circle cx="1106.8" cy="656.5" r="3.6"/>
</g>
<path d="M1103.5,655.5 H1110 M1103.5,657.5 H1110" stroke="#ffffff" stroke-width="0.8"/>
<path d="M1118,633.5 L1115.5,636 L1118,638.5 M1121.5,632.5 L1119.5,639.5 M1123,633.5 L1125.5,636 L1123,638.5" fill="none" stroke="#222" stroke-width="0.9"/>
<text x="1126.3" y="648.3" font-family="Liberation Sans, sans-serif" font-weight="bold" font-size="18" fill="#141414" textLength="71" lengthAdjust="spacingAndGlyphs">Cod.ERP</text>
<text x="1126.6" y="661.2" font-family="Liberation Sans, sans-serif" font-size="7.4" fill="#3a3a3a" textLength="55.5" lengthAdjust="spacing">Tecnologia</text>
</svg>
</body></html>
